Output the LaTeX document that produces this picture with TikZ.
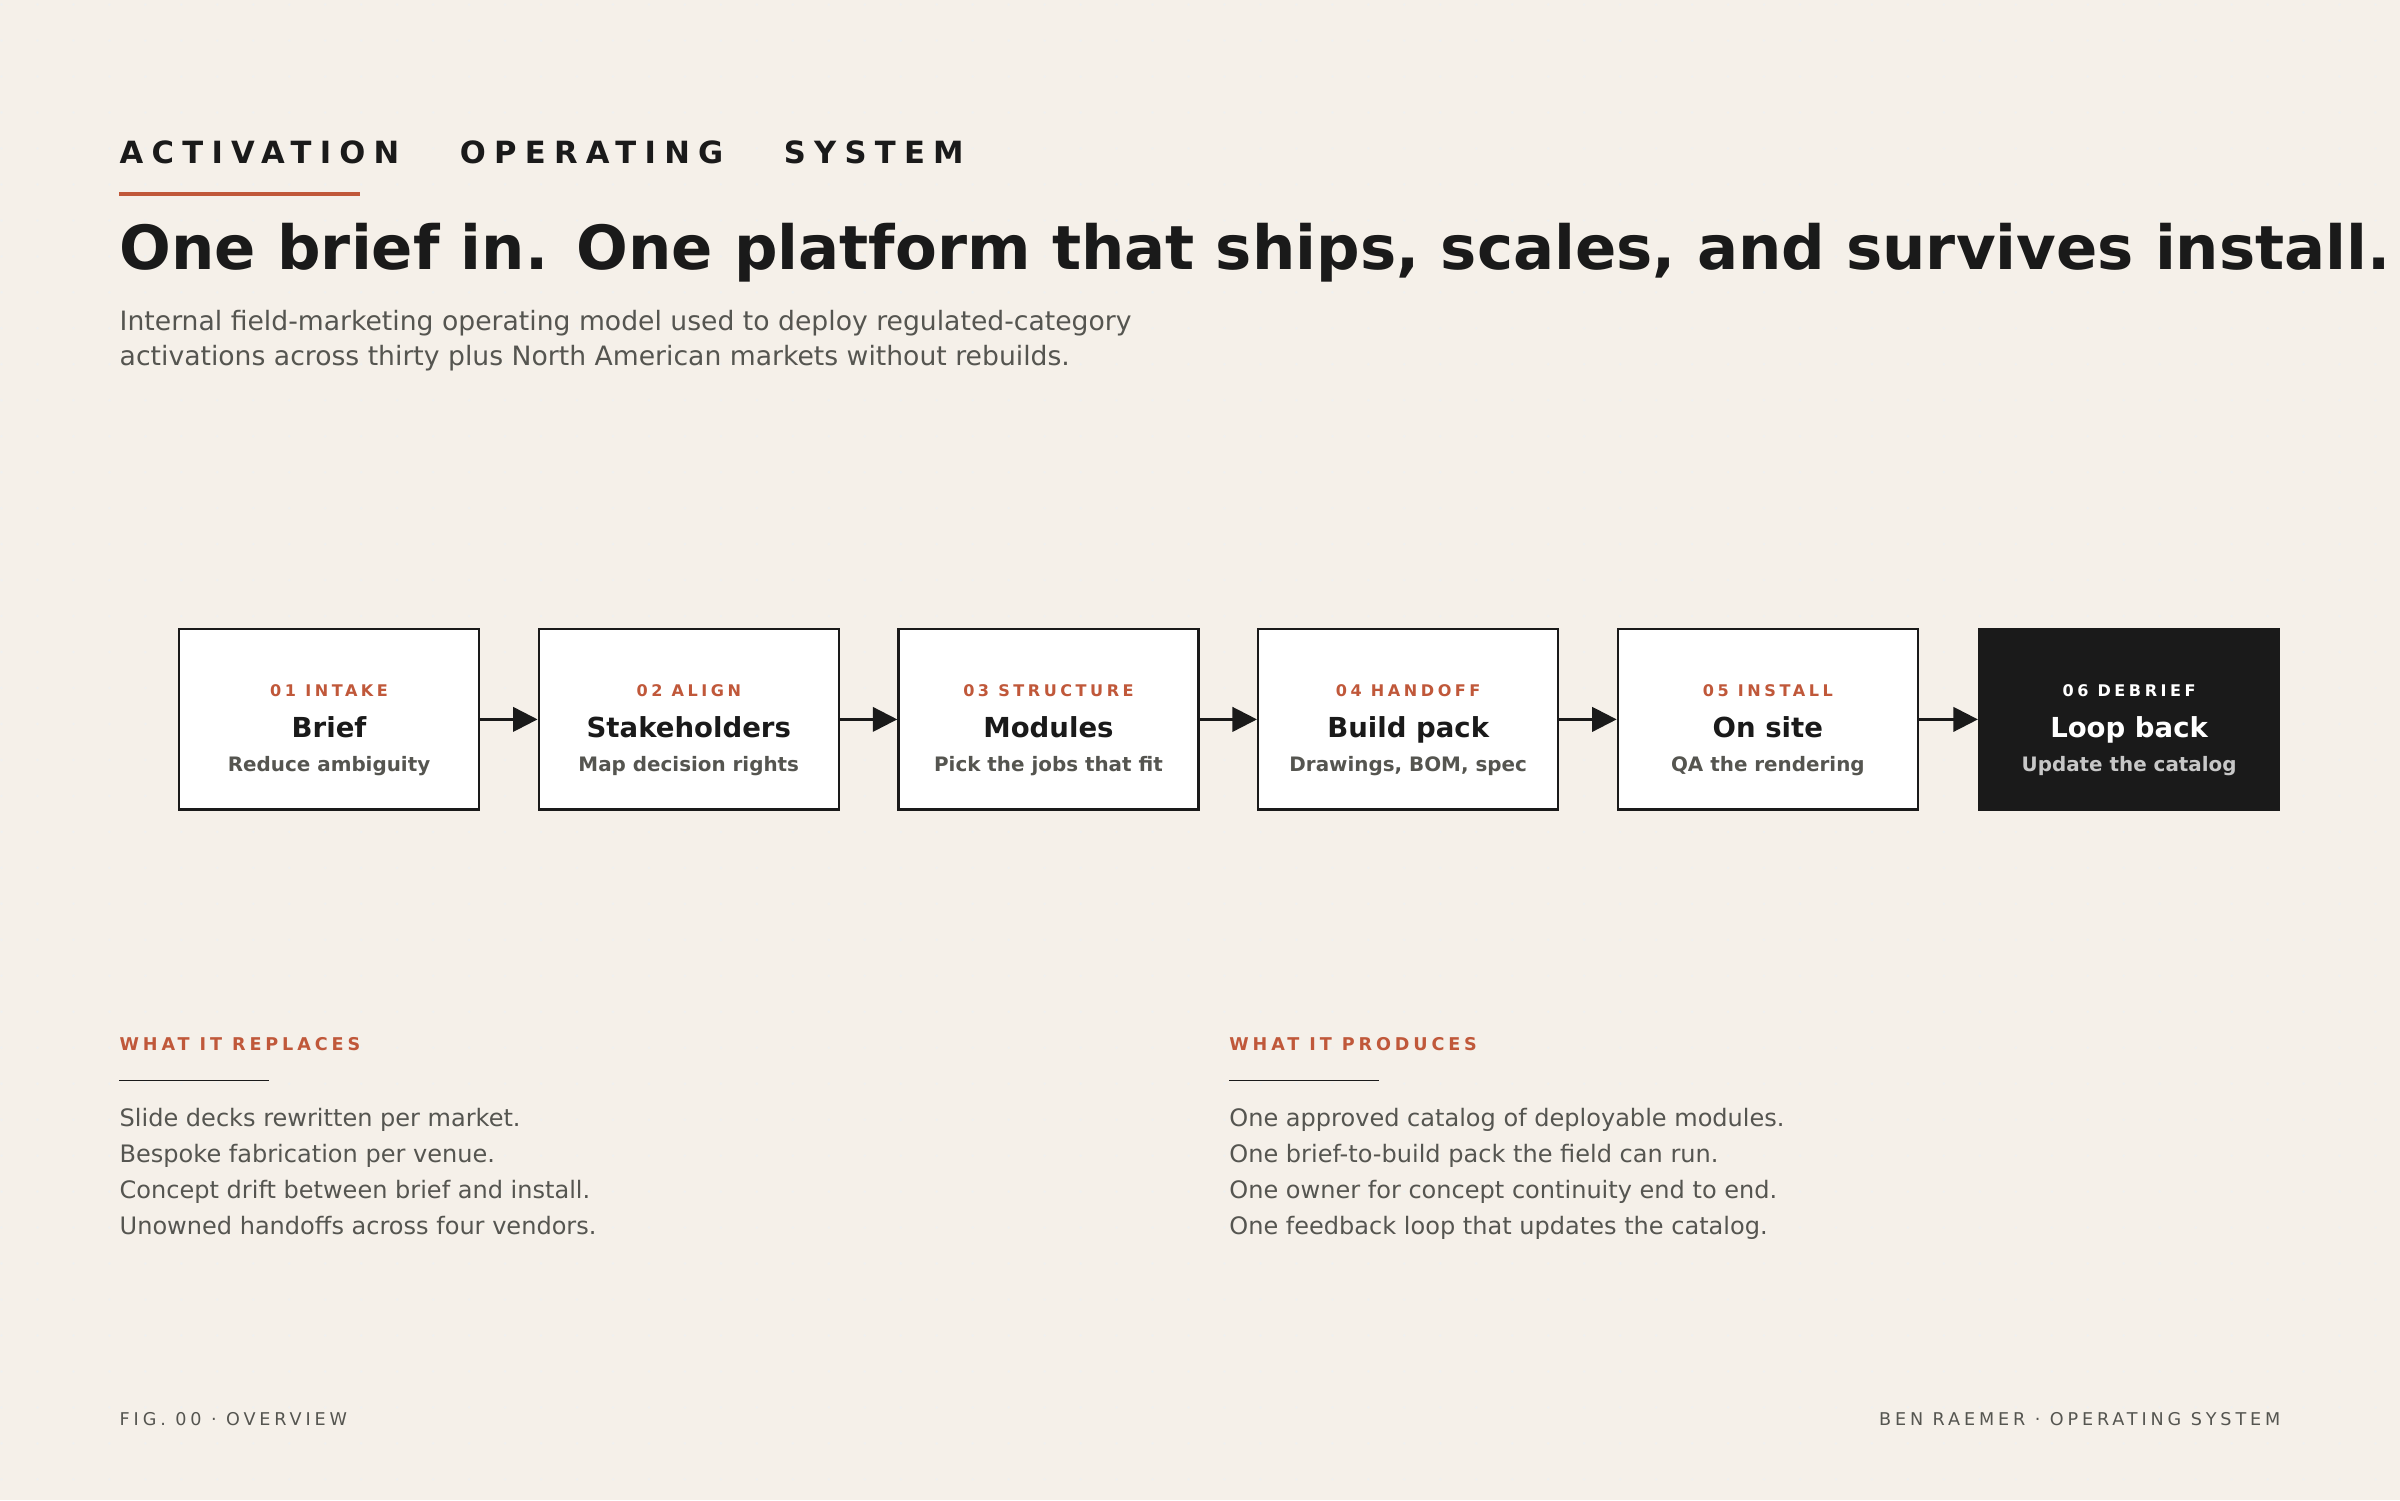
\documentclass[tikz,border=0pt]{standalone}
\usepackage{fontspec}
\setmainfont{DejaVu Sans}
\newfontfamily\wide[LetterSpace=27,WordSpace=3.2]{DejaVu Sans}
\newfontfamily\wider[LetterSpace=22,WordSpace=2.4]{DejaVu Sans}
\newfontfamily\footfont[LetterSpace=22]{DejaVu Sans}
\usetikzlibrary{positioning}
\usetikzlibrary{arrows.meta}
\definecolor{paper}{HTML}{F5F0E9}
\definecolor{ink}{HTML}{1A1A1A}
\definecolor{rust}{HTML}{C0583A}
\definecolor{mute}{HTML}{555550}
\tikzset{
  stage/.style={draw=ink,line width=1.6pt,fill=white,minimum width=196pt,minimum height=118pt,inner sep=0pt},
  stagedark/.style={stage,fill=ink},
  txt/.style={anchor=base west,inner sep=0pt},
  flow/.style={draw=ink,line width=1.6pt,-{Triangle[length=16pt,width=16pt]}},
}
\begin{document}
\begin{tikzpicture}[x=1pt,y=-1pt]
    \fill[paper] (0,0) rectangle (1568,980);
    \useasboundingbox (0,0) rectangle (1568,980);
    \foreach \i in {0,...,66}
      \foreach \j in {0,...,41}
        \fill[black!6] (\i*23.5+1,\j*23.5+3) circle (0.9pt);
    % header
    \node[txt,text=ink,font=\wide\bfseries\fontsize{20}{24}\selectfont] (kicker) at (78,107) {ACTIVATION OPERATING SYSTEM};
    \draw[rust,line width=2.6pt] (78,127) -- (235,127);
    \node[txt,text=ink,font=\bfseries\fontsize{39.8}{46}\selectfont] (headline) at (78,176) {One brief in. One platform that ships, scales, and survives install.};
    \node[txt,text=mute,font=\fontsize{17.4}{20}\selectfont] (sub1) at (78,216) {Internal field-marketing operating model used to deploy regulated-category};
    \node[txt,text=mute,font=\fontsize{17.4}{20}\selectfont] (sub2) at (78,239) {activations across thirty plus North American markets without rebuilds.};
    % stages
    \foreach \n/\x/\lab/\ttl/\sub/\st/\ca/\cb/\cc in {
        1/215/01 INTAKE/Brief/Reduce ambiguity/stage/rust/ink/mute,
        2/450/02 ALIGN/Stakeholders/Map decision rights/stage/rust/ink/mute,
        3/685/03 STRUCTURE/Modules/Pick the jobs that fit/stage/rust/ink/mute,
        4/920/04 HANDOFF/Build pack/{Drawings, BOM, spec}/stage/rust/ink/mute,
        5/1155/05 INSTALL/On site/QA the rendering/stage/rust/ink/mute,
        6/1391/06 DEBRIEF/Loop back/Update the catalog/stagedark/white/white/black!22} {
      \node[\st] (s\n) at (\x,470) {};
      \node[text=\ca,font=\wider\bfseries\fontsize{10.5}{12}\selectfont,anchor=base,inner sep=0pt] (l\n) at (\x,455) {\lab};
      \node[text=\cb,font=\bfseries\fontsize{18}{21}\selectfont,anchor=base,inner sep=0pt] (t\n) at (\x,482) {\ttl};
      \node[text=\cc,font=\bfseries\fontsize{13}{15}\selectfont,anchor=base,inner sep=0pt] (d\n) at (\x,504) {\sub};
    }
    \foreach \a/\b in {1/2,2/3,3/4,4/5,5/6}
      \draw[flow] (s\a.east) -- (s\b.west);
    % lower columns
    \node[txt,text=rust,font=\wider\bfseries\fontsize{11.5}{14}\selectfont] (repl) at (78,686) {WHAT IT REPLACES};
    \draw[ink,line width=0.9pt] (78,706) -- (176,706);
    \node[txt,text=rust,font=\wider\bfseries\fontsize{11.5}{14}\selectfont] (prod) at (803,686) {WHAT IT PRODUCES};
    \draw[ink,line width=0.9pt] (803,706) -- (901,706);
    \foreach \t [count=\k] in {Slide decks rewritten per market.,Bespoke fabrication per venue.,Concept drift between brief and install.,Unowned handoffs across four vendors.}
      \node[txt,text=mute,font=\fontsize{15.7}{18}\selectfont] (r\k) at (78,736+\k*23.5-23.5) {\t};
    \foreach \t [count=\k] in {One approved catalog of deployable modules.,One brief-to-build pack the field can run.,One owner for concept continuity end to end.,One feedback loop that updates the catalog.}
      \node[txt,text=mute,font=\fontsize{15.7}{18}\selectfont] (p\k) at (803,736+\k*23.5-23.5) {\t};
    % footer
    \node[txt,text=mute,font=\footfont\fontsize{11.5}{14}\selectfont] (figl) at (78,931) {FIG. 00 · OVERVIEW};
    \node[anchor=base east,inner sep=0pt,text=mute,font=\footfont\fontsize{11.5}{14}\selectfont] (figr) at (1490,931) {BEN RAEMER · OPERATING SYSTEM};
\end{tikzpicture}
\end{document}
